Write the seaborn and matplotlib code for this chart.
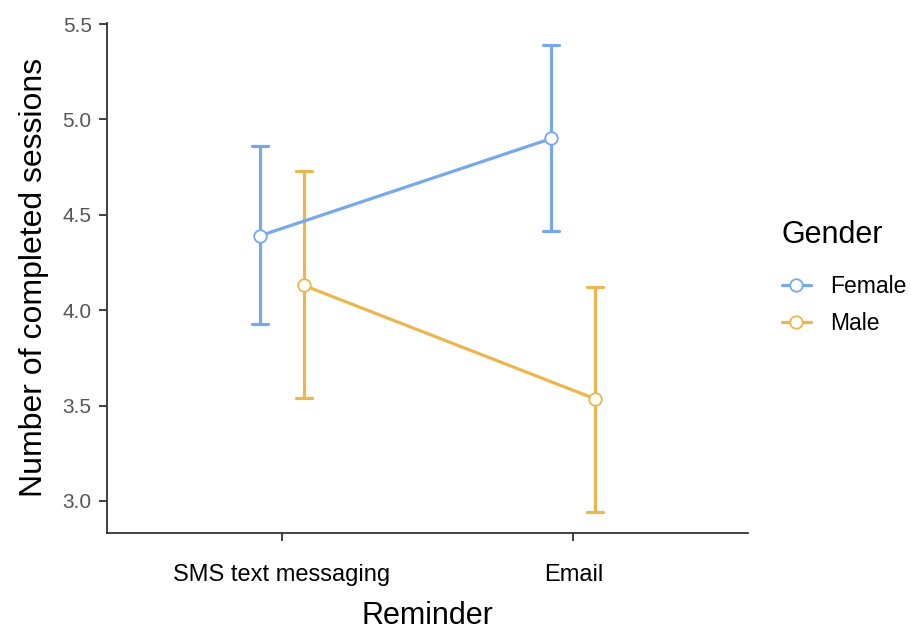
import pandas as pd
import numpy as np
import matplotlib
matplotlib.use("Agg")
import matplotlib.pyplot as plt
import seaborn as sns

# valores (média e limites do intervalo)
reminder = ["SMS text messaging", "Email"]
gender = ["Female", "Male"]
female_mean = [4.39, 4.90]
female_lo = [3.93, 4.415]
female_hi = [4.86, 5.39]
male_mean = [4.13, 3.535]
male_lo = [3.54, 2.94]
male_hi = [4.73, 4.12]

blue = "#77a7ec"
orange = "#ecb64f"

# cada grupo vira 3 linhas (lo, média, hi) -> mediana = média, pi 100 = [lo, hi]
rows = []
for g, mean, lo, hi in [("Female", female_mean, female_lo, female_hi),
                        ("Male", male_mean, male_lo, male_hi)]:
    for i, r in enumerate(reminder):
        for v in (lo[i], mean[i], hi[i]):
            rows.append({"Reminder": r, "Gender": g, "value": v})
df = pd.DataFrame(rows)

sns.set_style("ticks")
plt.rcParams["font.family"] = ["Liberation Sans", "DejaVu Sans"]
plt.rcParams["text.color"] = "black"
plt.rcParams["axes.labelcolor"] = "black"

fig = plt.figure(figsize=(9.12, 6.3), dpi=100)
ax = fig.add_axes([0.1173, 0.154, 0.703, 0.81])

sns.pointplot(data=df, x="Reminder", y="value", hue="Gender",
              order=reminder, hue_order=gender,
              palette=[blue, orange], estimator="median",
              errorbar=("pi", 100), dodge=0.15, capsize=0.055,
              markers="o", markersize=9, linewidth=2.3,
              err_kws={"linewidth": 2.3}, legend=False, ax=ax)

# marcadores brancos por dentro
for line in ax.lines:
    if line.get_marker() == "o":
        line.set_markerfacecolor("white")
        line.set_markeredgewidth(1.3)
        line.set_zorder(5)

ax.set_xlim(-0.6, 1.6)
ax.set_ylim(2.832, 5.507)
ax.set_yticks([3.0, 3.5, 4.0, 4.5, 5.0, 5.5])
ax.set_yticklabels(["3.0", "3.5", "4.0", "4.5", "5.0", "5.5"])
ax.tick_params(axis="y", labelsize=15, labelcolor="#555555", color="#333333",
               length=6, width=1.3, pad=5)
ax.tick_params(axis="x", labelsize=17, labelcolor="black", color="#333333",
               length=6, width=1.3, pad=16)
for s in ["left", "bottom"]:
    ax.spines[s].set_color("#333333")
    ax.spines[s].set_linewidth(1.3)
sns.despine(ax=ax)

ax.set_xlabel("Reminder", fontsize=22, labelpad=11)
ax.set_ylabel("Number of completed sessions", fontsize=23, labelpad=10)

handles = [plt.Line2D([], [], color=c, marker="o", markersize=9,
                      markerfacecolor="white", markeredgewidth=1.3, linewidth=2.3)
           for c in [blue, orange]]
leg = ax.legend(handles, gender, title="Gender", loc="center left",
                bbox_to_anchor=(1.02, 0.50), frameon=False, fontsize=16.5,
                title_fontsize=22, handlelength=1.3, handletextpad=0.8,
                labelspacing=0.62)
leg._legend_box.align = "left"
leg._legend_box.sep = 18

fig.savefig("out.png", dpi=100)
